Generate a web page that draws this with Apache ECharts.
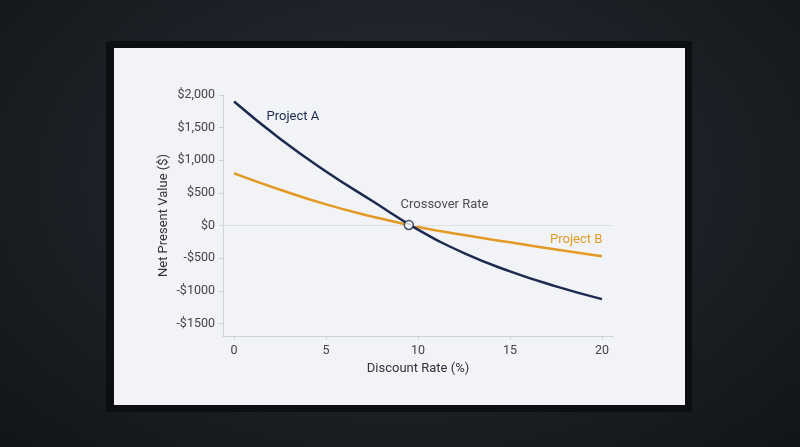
<!DOCTYPE html>
<html><head><meta charset="utf-8">
<script src="https://cdn.jsdelivr.net/npm/echarts@6/dist/echarts.min.js"></script>
<style>
html,body{margin:0;padding:0;width:800px;height:447px;overflow:hidden;background:radial-gradient(ellipse at 50% 40%,#2a2f36,#111418);}
#frame{position:absolute;left:106px;top:41px;width:586px;height:371px;background:#0c0e11;border-radius:3px;}
#panel{position:absolute;left:114px;top:48px;width:571px;height:357px;background:#f1f3f6;}
#c{position:absolute;left:0;top:0;width:800px;height:447px;}
</style></head><body>
<div id="frame"></div><div id="panel"></div>
<div id="c"></div>
<script>
const rates = [0, 2.5, 5, 7.5, 10, 12.5, 15, 17.5, 20];
const projectA = [1900, 1330, 830, 380, -60, -420, -700, -930, -1125];
const projectB = [800, 550, 325, 140, -20, -145, -255, -365, -470];
const crossover = [9.5, 10];
const xTicks = [0, 5, 10, 15, 20];
const yTicks = [-1500, -1000, -500, 0, 500, 1000, 1500, 2000];
const yLabels = {'-1500':'-$1500','-1000':'-$1000','-500':'-$500','0':'$0','500':'$500','1000':'$1,000','1500':'$1,500','2000':'$2,000'};

const chart = echarts.init(document.getElementById('c'));
const ff = 'Roboto, "Noto Sans", sans-serif';
chart.setOption({
  animation:false,
  grid:{left:223,right:187,top:95,bottom:111},
  xAxis:{type:'value',min:-0.6,max:20.6,
    name:'Discount Rate (%)',nameLocation:'middle',nameGap:22,
    nameTextStyle:{color:'#333',fontSize:13,fontFamily:ff},
    axisLine:{show:true,onZero:false,lineStyle:{color:'#cfd3d8'}},
    axisTick:{show:true,customValues:xTicks,length:4,lineStyle:{color:'#cfd3d8'}},
    axisLabel:{customValues:xTicks,color:'#444',fontSize:12.5,fontFamily:ff,margin:8},
    splitLine:{show:false}},
  yAxis:{type:'value',min:-1690,max:2000,
    name:'Net Present Value ($)',nameLocation:'middle',nameGap:53,nameRotate:90,
    nameTextStyle:{color:'#333',fontSize:13,fontFamily:ff},
    axisLine:{show:true,onZero:false,lineStyle:{color:'#cfd3d8'}},
    axisTick:{show:true,customValues:yTicks,length:4,lineStyle:{color:'#cfd3d8'}},
    axisLabel:{customValues:yTicks,formatter:v=>yLabels[String(v)],color:'#444',fontSize:12.5,fontFamily:ff,margin:8},
    splitLine:{show:false}},
  series:[
    {type:'line',name:'Project B',smooth:true,symbol:'none',
     data:rates.map((r,i)=>[r,projectB[i]]),
     lineStyle:{color:'#e39a24',width:2.5},
     markLine:{silent:true,symbol:'none',label:{show:false},lineStyle:{color:'#dde1e6',width:1,type:'solid'},data:[{yAxis:0}]},
     markPoint:{symbolSize:0,data:[{coord:[18.6,-220],value:'Project B',label:{show:true,formatter:'Project B',color:'#e39a24',fontSize:13,fontFamily:ff}}]}},
    {type:'line',name:'Project A',smooth:true,symbol:'none',
     data:rates.map((r,i)=>[r,projectA[i]]),
     lineStyle:{color:'#1c2a4f',width:2.5},
     markPoint:{symbolSize:0,data:[{coord:[3.2,1660],value:'Project A',label:{show:true,formatter:'Project A',color:'#1c2a4f',fontSize:13,fontFamily:ff}}]}},
    {type:'scatter',data:[crossover],symbol:'circle',symbolSize:9,z:5,
     itemStyle:{color:'#ffffff',borderColor:'#1c2a4f',borderWidth:1.5},
     label:{show:true,position:[-3,-21],formatter:'Crossover Rate',color:'#222',fontSize:13,fontFamily:ff}}
  ]
});
</script></body></html>
